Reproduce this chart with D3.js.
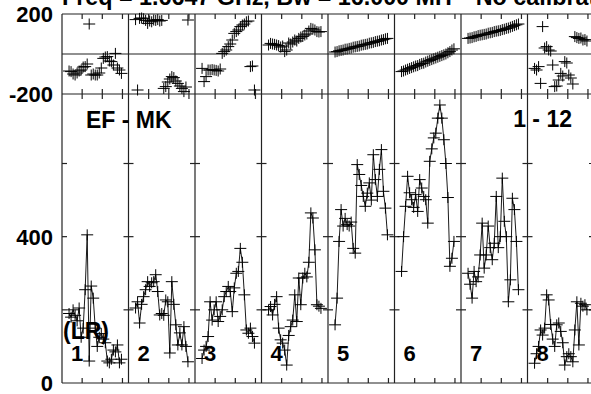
<!DOCTYPE html>
<html>
<head>
<meta charset="utf-8">
<script src="https://cdn.jsdelivr.net/npm/d3@7"></script>
<style>
  body { margin: 0; background: #fff; }
  svg { display: block; }
  text { font-family: "Liberation Sans", Arial, sans-serif; font-weight: bold; fill: #000; }
</style>
</head>
<body>
<svg id="chart" width="591" height="394"></svg>
<script>
// chart values
const titleLeft = "Freq = 1.6647 GHz, Bw = 16.000 MH";
const titleRight = "No calibration";
const panelLabels = ["1", "2", "3", "4", "5", "6", "7", "8"];
const times = [3.5, 4.5, 5.5, 6.5, 7.5, 8.5, 9.5, 10.5, 11.5, 12.5, 13.5, 14.5, 15.5, 16.5,
  17.5, 18.5, 19.5, 20.5, 21.5, 22.5, 23.5, 24.5, 25.5, 26.5, 27.5, 28.5, 29.5];
const timeTicks = [10, 20, 30];
const ampTicks = [200, 400, 600];
const ampLabels = [0, 400];
const phaseLabels = [-200, 200];

// amplitude per panel
const amp1 = [190, 180, 200, 185, 170, 205, 125, 150, 255, 405, 60, 265, 232, 150, 100, 125, 135, 120, 110, 60, 55, 65, 90, 85, 104, 55, 65];
const amp2 = [205, 222, 164, 215, 236, 255, 277, 264, 274, 277, 296, 250, 186, 190, 185, 227, 222, 82, 277, 215, 159, 104, 137, 104, 154, 100, 58];
const amp3 = [67, 90, 100, 127, 222, 172, 200, 222, 168, 182, 200, 236, 250, 264, 250, 195, 260, 300, 305, 368, 330, 241, 145, 136, 150, 127, 109];
const amp4 = [200, 209, 186, 215, 236, 150, 118, 109, 90, 49, 130, 154, 172, 241, 168, 287, 214, 287, 300, 290, 330, 465, 451, 364, 214, 210, 204];
const amp5 = [159, 232, 387, 474, 429, 450, 433, 429, 440, 368, 355, 597, 570, 540, 510, 483, 519, 547, 500, 624, 556, 510, 584, 638, 524, 478, 405];
const amp6 = [305, 400, 483, 565, 520, 501, 480, 515, 469, 556, 533, 510, 501, 437, 606, 640, 670, 683, 724, 760, 724, 665, 600, 507, 319, 341, 387];
const amp7 = [300, 270, 232, 305, 277, 290, 350, 437, 314, 350, 429, 370, 337, 382, 510, 370, 400, 560, 442, 400, 222, 282, 505, 474, 387, 255, null];
const amp8 = [54, 80, 100, 145, 131, 150, 241, 227, 160, 120, 100, 159, 164, 141, 110, 49, 72, 80, 72, 58, 145, 222, 104, 218, 210, 214, 200];

// phase per panel
const ph1 = [-85, -88, -100, -105, -95, -85, -80, -65, -63, -50, 150, -105, -100, -105, -105, -95, -70, -22, -15, -13, -35, -38, -55, 3, -70, -80, -97];
const ph2 = [172, -180, 178, 180, 176, 168, 153, 165, 161, 170, 168, 172, 165, 168, -172, -163, -140, -125, -113, -118, -135, -147, -160, -172, -188, -165, 170];
const ph3 = [-72, -138, -113, -80, -80, -78, -80, -82, -85, -75, 3, 12, 20, 37, 50, 70, 103, 112, 120, 137, 145, 150, 161, 165, -63, -60, -180];
const ph4 = [45, 53, 50, 48, 45, 42, 35, 40, 12, 20, 55, 50, 60, 70, 65, 78, 85, 88, 95, 100, 115, 128, 125, 120, 112, 110, 112];
const ph5 = [10, 12, 16, 18, 20, 24, 25, 28, 30, 34, 36, 38, 40, 44, 46, 48, 50, 54, 56, 58, 62, 64, 66, 70, 72, 76, 78];
const ph6 = [-88, -85, -80, -76, -72, -68, -64, -60, -58, -52, -48, -46, -40, -36, -32, -28, -24, -20, -16, -12, -8, -4, 0, 6, 12, 20, 26];
const ph7 = [78, 80, 82, 86, 88, 92, 94, 96, 98, 100, 104, 106, 108, 112, 114, 116, 118, 122, 124, 128, 130, 134, 138, 142, 146, 150, null];
const ph8 = [-72, -80, -63, -147, 137, 30, 37, 20, 15, -55, -163, -160, -130, -97, -110, -38, -45, -105, -120, -150, 87, 82, 78, 80, 70, 72, 65];

const amps = [amp1, amp2, amp3, amp4, amp5, amp6, amp7, amp8];
const phases = [ph1, ph2, ph3, ph4, ph5, ph6, ph7, ph8];

const svg = d3.select("#chart");
const span = 33; // time range of one panel

// scales
const x = d3.scaleLinear().domain([0, span * 8]).range([62, 594]);
const yAmp = d3.scaleLinear().domain([0, 790]).range([383, 94]);
const yPh = d3.scaleLinear().domain([-200, 200]).range([94, 14]);

const frame = svg.append("g").attr("stroke", "#222").attr("stroke-width", 1.2).attr("fill", "none");

// horizontal frame lines
[yPh(200), yPh(0), yPh(-200), yAmp(0)].forEach(y => {
  frame.append("line").attr("x1", x(0)).attr("x2", x(span * 8)).attr("y1", y).attr("y2", y);
});

// panel separators
d3.range(9).forEach(i => {
  frame.append("line").attr("x1", x(i * span)).attr("x2", x(i * span))
    .attr("y1", yPh(200)).attr("y2", yAmp(0));
});

// time ticks
d3.range(8).forEach(i => {
  timeTicks.forEach(t => {
    const xx = x(i * span + t);
    frame.append("line").attr("x1", xx).attr("x2", xx).attr("y1", yPh(200)).attr("y2", yPh(200) + 5);
    frame.append("line").attr("x1", xx).attr("x2", xx).attr("y1", yPh(-200) - 5).attr("y2", yPh(-200) + 5);
    frame.append("line").attr("x1", xx).attr("x2", xx).attr("y1", yAmp(0)).attr("y2", yAmp(0) - 5);
  });
});

// amplitude ticks on each separator
d3.range(9).forEach(i => {
  ampTicks.forEach(v => {
    const xx = x(i * span);
    frame.append("line").attr("x1", i === 0 ? xx : xx - 5).attr("x2", xx + 5)
      .attr("y1", yAmp(v)).attr("y2", yAmp(v));
  });
});

// axis labels
ampLabels.forEach(v => {
  svg.append("text").attr("x", 53).attr("y", yAmp(v) + 8)
    .attr("text-anchor", "end").style("font-size", "22px").text(v);
});
phaseLabels.forEach(v => {
  svg.append("text").attr("x", 53).attr("y", yPh(v) + 8)
    .attr("text-anchor", "end").style("font-size", "22px").text(v);
});

const cross = "M-6,0H6M0,-5.5V5.5";

amps.forEach((vals, i) => {
  const pts = times.map((t, k) => ({ t: i * span + t, a: vals[k], p: phases[i][k] }));

  const line = d3.line()
    .defined(d => d.a != null)
    .x(d => x(d.t))
    .y(d => yAmp(d.a));

  svg.append("path")
    .datum(pts)
    .attr("d", line)
    .attr("fill", "none")
    .attr("stroke", "#000")
    .attr("stroke-width", 0.9);

  svg.selectAll(".am" + i)
    .data(pts.filter(d => d.a != null))
    .join("path")
    .attr("d", cross)
    .attr("transform", d => `translate(${x(d.t)},${yAmp(d.a)})`)
    .attr("stroke", "#000")
    .attr("stroke-width", 1);

  svg.selectAll(".ph" + i)
    .data(pts.filter(d => d.p != null))
    .join("path")
    .attr("d", cross)
    .attr("transform", d => `translate(${x(d.t)},${yPh(d.p)})`)
    .attr("stroke", "#000")
    .attr("stroke-width", 1);

  // panel number
  svg.append("text")
    .attr("x", x(i * span) + 9)
    .attr("y", 361)
    .style("font-size", "22px")
    .text(panelLabels[i]);
});

const ttl = svg.append("text").attr("x", 62).attr("y", 5).style("font-size", "23.3px");
ttl.append("tspan").text(titleLeft);
ttl.append("tspan").attr("dx", 24).text(titleRight);

svg.append("text").attr("x", 86).attr("y", 128).style("font-size", "23px").text("EF - MK");
svg.append("text").attr("x", 572).attr("y", 127).attr("text-anchor", "end").style("font-size", "23px").text("1 - 12");
svg.append("text").attr("x", 63).attr("y", 339).style("font-size", "23px").text("(LR)");
</script>
</body>
</html>
